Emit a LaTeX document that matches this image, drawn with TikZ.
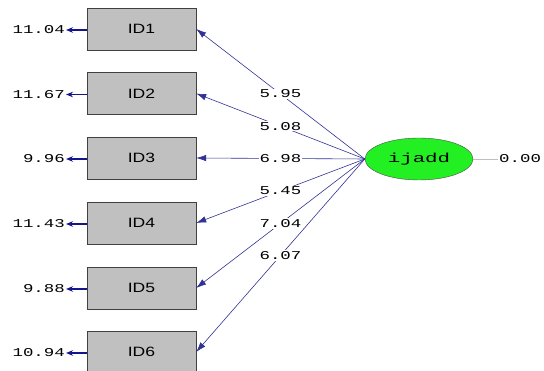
\documentclass[tikz,border=0pt]{standalone}
\usepackage{fontspec}
\usepackage{graphicx}
\setmainfont{Liberation Sans}
\newfontfamily\monof{Liberation Mono}
\usetikzlibrary{arrows.meta,shapes.geometric}
\definecolor{pathblue}{RGB}{50,50,150}
\definecolor{errblue}{RGB}{20,20,140}
\definecolor{boxgray}{RGB}{192,192,192}
\definecolor{latgreen}{RGB}{34,240,34}
\newcommand{\wtext}[1]{\scalebox{1.45}[1]{#1}}
\newcommand{\wsans}[1]{\scalebox{1.3}[1]{#1}}
\newcommand{\wlat}[1]{\scalebox{1.6}[1]{#1}}
\tikzset{
  obsbox/.style={draw=black!75, fill=boxgray, minimum width=109pt, minimum height=42pt, inner sep=0pt, font=\fontsize{13.5}{13.5}\selectfont},
  latent/.style={ellipse, draw=black!70, fill=latgreen, minimum width=108pt, minimum height=42pt, inner sep=0pt, font=\monof\fontsize{13}{13}\selectfont},
  numlbl/.style={inner sep=1pt, font=\monof\fontsize{12}{12}\selectfont},
  loadarrow/.style={draw=pathblue, line width=0.6pt, -{Latex[length=10pt,width=6.5pt]}},
  errarrow/.style={draw=errblue, line width=1.8pt, -{Stealth[length=7pt,width=5.5pt]}},
  pathlbl/.style={numlbl, fill=white, pos=0.5}
}
\begin{document}
\begin{tikzpicture}[x=1pt,y=1pt]
\useasboundingbox (0,0) rectangle (544,371);
% observed boxes
\node[obsbox] (id1) at (141.5,342) {\wsans{ID1}};
\node[obsbox] (id2) at (141.5,277.5) {\wsans{ID2}};
\node[obsbox] (id3) at (141.5,213) {\wsans{ID3}};
\node[obsbox] (id4) at (141.5,148) {\wsans{ID4}};
\node[obsbox] (id5) at (141.5,83) {\wsans{ID5}};
\node[obsbox] (id6) at (141.5,19) {\wsans{ID6}};
% latent
\node[latent] (lat) at (419,212) {\wlat{ijadd}};
% error variances
\node[numlbl, anchor=east] (e1) at (66,341) {\wtext{11.04}};
\node[numlbl, anchor=east] (e2) at (66,276.5) {\wtext{11.67}};
\node[numlbl, anchor=east] (e3) at (66,212) {\wtext{9.96}};
\node[numlbl, anchor=east] (e4) at (66,147) {\wtext{11.43}};
\node[numlbl, anchor=east] (e5) at (66,82) {\wtext{9.88}};
\node[numlbl, anchor=east] (e6) at (66,18) {\wtext{10.94}};
\foreach \i in {1,...,6} {
  \draw[errarrow] (id\i.west |- e\i.east) -- (e\i.east);
}
% latent variance
\node[numlbl, anchor=west] (v) at (498,212) {\wtext{0.00}};
\draw[black!25, line width=0.8pt] (lat.east) -- (v.west);
% loadings
\draw[loadarrow] (lat.west) -- node[pathlbl] {\wtext{5.95}} (id1.east);
\draw[loadarrow] (lat.west) -- node[pathlbl] {\wtext{5.08}} (id2.east);
\draw[loadarrow] (lat.west) -- node[pathlbl] {\wtext{6.98}} (id3.east);
\draw[loadarrow] (lat.west) -- node[pathlbl] {\wtext{5.45}} (id4.east);
\draw[loadarrow] (lat.west) -- node[pathlbl] {\wtext{7.04}} (id5.east);
\draw[loadarrow] (lat.west) -- node[pathlbl] {\wtext{6.07}} (id6.east);
\end{tikzpicture}
\end{document}
